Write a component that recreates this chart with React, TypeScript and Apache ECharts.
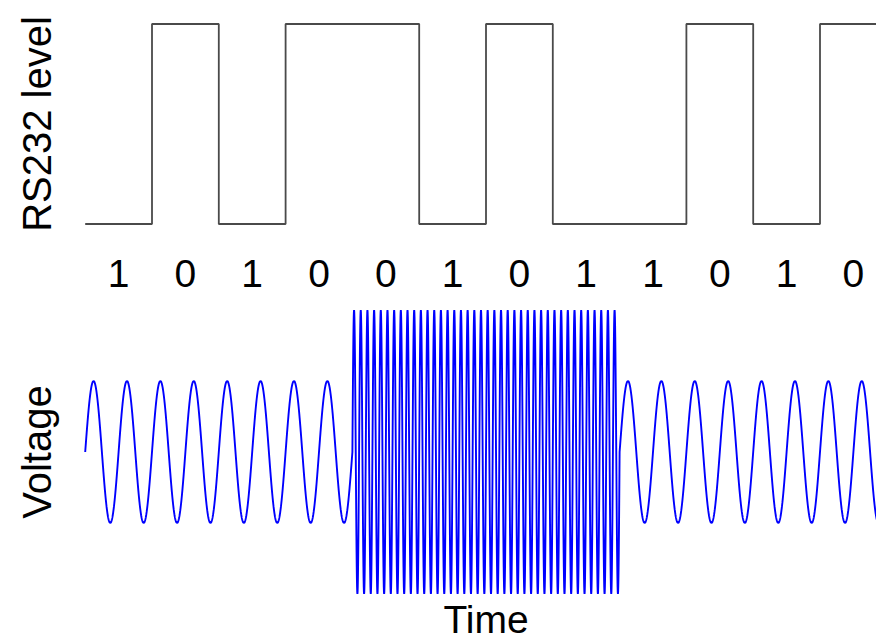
import React, { useEffect, useRef } from "react";
import * as echarts from "echarts";

// Transmitted bits (labels under the RS232 trace)
const bits = [1, 0, 1, 0, 0, 1, 0, 1, 1, 0, 1, 0];
// RS232 line level per bit as drawn (logic 1 = low level)
const rs232Level = [0, 1, 0, 1, 1, 0, 1, 0, 0, 1, 0, 1];
// Modulated carrier per bit: cycles within one bit period and relative amplitude
const cyclesPerBit = [2, 2, 2, 2, 10, 10, 10, 10, 2, 2, 2, 2];
const amplitude = [0.5, 0.5, 0.5, 0.5, 1, 1, 1, 1, 0.5, 0.5, 0.5, 0.5];
const samplesPerBit = 400;

const FONT = "'Liberation Sans', Arial, Helvetica, sans-serif";

export default function App() {
  const ref = useRef<HTMLDivElement>(null);

  useEffect(() => {
    if (!ref.current) return;
    const chart = echarts.init(ref.current, undefined, { renderer: "svg" });

    const levelData: number[][] = rs232Level.map((v, i) => [i, v]);
    levelData.push([bits.length, rs232Level[rs232Level.length - 1]]);

    const voltageData: number[][] = [];
    for (let i = 0; i < bits.length; i++) {
      for (let s = 0; s < samplesPerBit; s++) {
        const f = s / samplesPerBit;
        voltageData.push([i + f, amplitude[i] * Math.sin(2 * Math.PI * cyclesPerBit[i] * f)]);
      }
    }
    voltageData.push([bits.length, 0]);

    const plotLeft = 85.2;
    const plotWidth = 801.6;

    const hiddenY = {
      axisLine: { show: false },
      axisTick: { show: false },
      axisLabel: { show: false },
      splitLine: { show: false },
      nameLocation: "middle" as const,
      nameRotate: 90,
      nameTextStyle: { fontFamily: FONT, fontSize: 40, color: "#000" },
    };

    chart.setOption({
      animation: false,
      backgroundColor: "#fff",
      grid: [
        { left: plotLeft, top: 24, width: plotWidth, height: 200, outerBoundsMode: "none" },
        { left: plotLeft, top: 310, width: plotWidth, height: 284, outerBoundsMode: "none" },
      ],
      xAxis: [
        {
          gridIndex: 0,
          type: "value",
          min: 0,
          max: bits.length,
          show: false,
        },
        {
          gridIndex: 0,
          type: "category",
          data: bits.map(String),
          position: "bottom",
          axisLine: { show: false },
          axisTick: { show: false },
          splitLine: { show: false },
          axisLabel: {
            interval: 0,
            margin: 30,
            fontFamily: FONT,
            fontSize: 39,
            color: "#000",
          },
        },
        {
          gridIndex: 1,
          type: "value",
          min: 0,
          max: bits.length,
          axisLine: { show: false },
          axisTick: { show: false },
          axisLabel: { show: false },
          splitLine: { show: false },
          name: "Time",
          nameLocation: "middle",
          nameGap: 7,
          nameTextStyle: {
            fontFamily: FONT,
            fontSize: 39,
            lineHeight: 36,
            color: "#000",
            verticalAlign: "top",
          },
        },
      ],
      yAxis: [
        { gridIndex: 0, type: "value", min: 0, max: 1, name: "RS232 level", nameGap: 28, ...hiddenY },
        { gridIndex: 1, type: "value", min: -1, max: 1, name: "Voltage", nameGap: 28, ...hiddenY },
      ],
      series: [
        {
          type: "line",
          xAxisIndex: 0,
          yAxisIndex: 0,
          data: levelData,
          step: "end",
          showSymbol: false,
          clip: false,
          lineStyle: { color: "#4a4a4a", width: 1.8 },
        },
        {
          type: "line",
          xAxisIndex: 2,
          yAxisIndex: 1,
          data: voltageData,
          showSymbol: false,
          clip: false,
          lineStyle: { color: "#0000ff", width: 1.9 },
        },
      ],
    });

    return () => chart.dispose();
  }, []);

  return (
    <div
      ref={ref}
      style={{
        position: "absolute",
        left: 0,
        top: 0,
        width: 876,
        height: 641,
        overflow: "hidden",
        background: "#fff",
      }}
    />
  );
}
